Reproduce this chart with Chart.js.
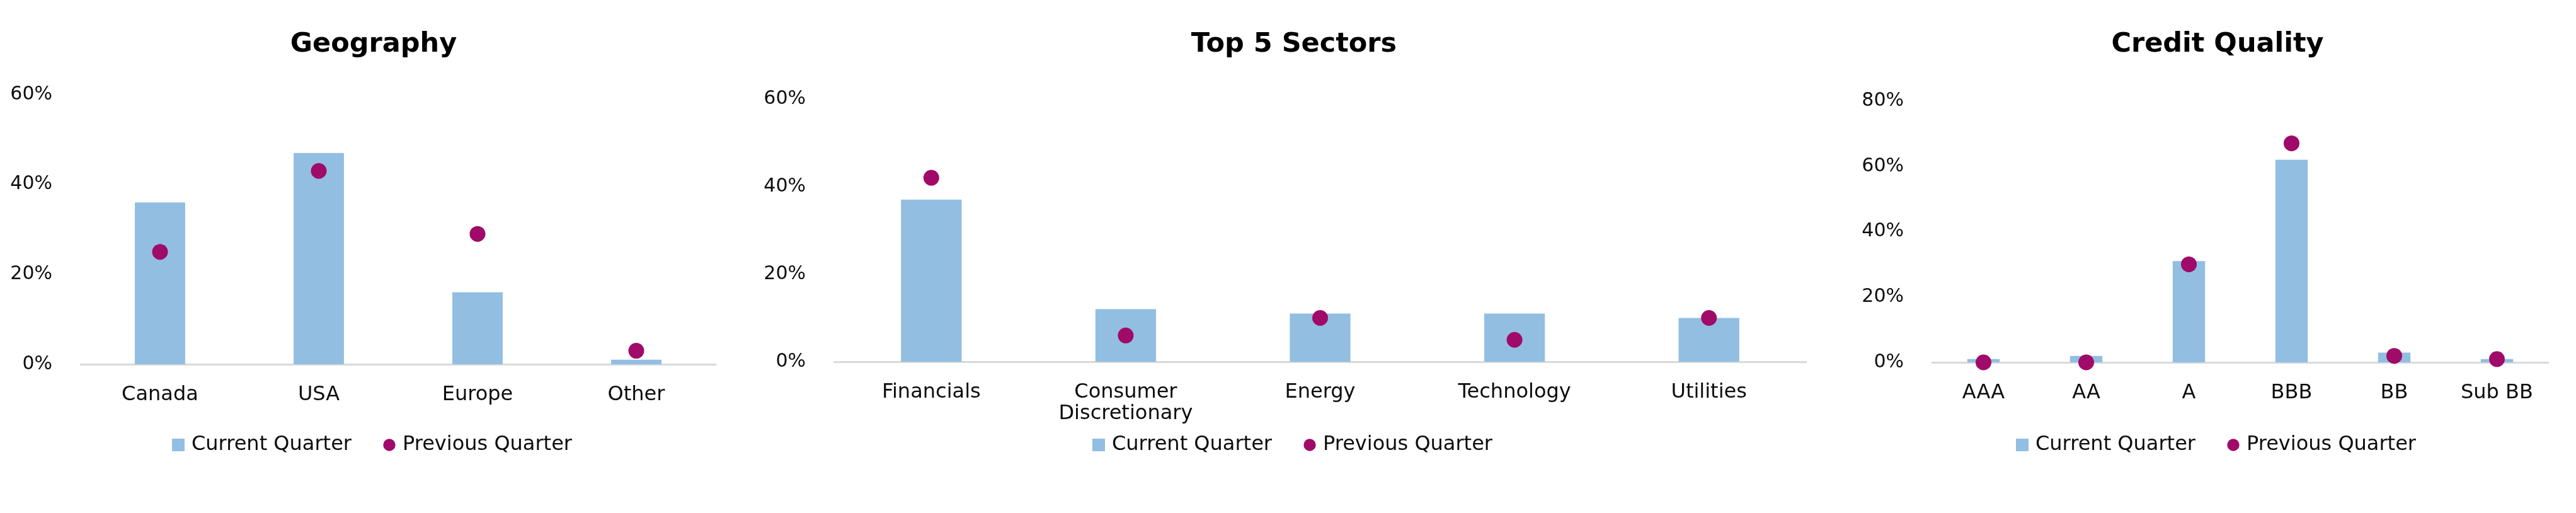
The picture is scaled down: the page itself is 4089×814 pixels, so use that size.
<!DOCTYPE html>
<html>
<head>
<meta charset="utf-8">
<script src="https://cdn.jsdelivr.net/npm/chart.js@4.4.1/dist/chart.umd.min.js"></script>
<style>
  html, body { margin: 0; padding: 0; background: #ffffff; }
  body { width: 4089px; height: 814px; position: relative; overflow: hidden; }
  canvas { position: absolute; top: 0; }
</style>
</head>
<body>
<canvas id="geo" width="1186" height="814" style="left:0px"></canvas>
<canvas id="sector" width="1748" height="814" style="left:1180px"></canvas>
<canvas id="credit" width="1138" height="814" style="left:2951px"></canvas>
<script>
// ---- data ----
const seriesNames = ['Current Quarter', 'Previous Quarter'];

const geoTitle = 'Geography';
const geoCategories = ['Canada', 'USA', 'Europe', 'Other'];
const geoCurrent = [36, 47, 16, 1];
const geoPrevious = [25, 43, 29, 3];
const geoTicks = [0, 20, 40, 60];

const sectorTitle = 'Top 5 Sectors';
const sectorCategories = ['Financials', ['Consumer', 'Discretionary'], 'Energy', 'Technology', 'Utilities'];
const sectorCurrent = [37, 12, 11, 11, 10];
const sectorPrevious = [42, 6, 10, 5, 10];
const sectorTicks = [0, 20, 40, 60];

const creditTitle = 'Credit Quality';
const creditCategories = ['AAA', 'AA', 'A', 'BBB', 'BB', 'Sub BB'];
const creditCurrent = [1, 2, 31, 62, 3, 1];
const creditPrevious = [0, 0, 30, 67, 2, 1];
const creditTicks = [0, 20, 40, 60, 80];

// ---- styles ----
const BAR_COLOR = '#92BEE2';
const DOT_COLOR = '#A00A68';
const AXIS_COLOR = '#D9D9D9';
const TEXT_COLOR = '#0d0d0d';
const FONT = "'DejaVu Sans', 'Liberation Sans', sans-serif";

Chart.defaults.font.family = FONT;
Chart.defaults.color = TEXT_COLOR;

function makeIcon(kind, color) {
  const c = document.createElement('canvas');
  c.width = 20; c.height = 20;
  const g = c.getContext('2d');
  g.fillStyle = color;
  if (kind === 'rect') { g.fillRect(0, 0, 20, 20); }
  else { g.beginPath(); g.arc(10, 10, 9.7, 0, Math.PI * 2); g.fill(); }
  return c;
}
const squareIcon = makeIcon('rect', BAR_COLOR);
const circleIcon = makeIcon('circle', DOT_COLOR);

const LEGEND_CENTER = 706;
const LEGEND_FONT = 32;
const LEGEND_PAD = 55;
const LEGEND_TOP = LEGEND_CENTER - (LEGEND_PAD + LEGEND_FONT / 2);
const LEGEND_HEIGHT = LEGEND_FONT + LEGEND_PAD + 10;
const X_AXIS_HEIGHT = 110;

// moves the legend box up so that it sits where the reference puts it,
// while the x axis keeps enough room for its (two-line) labels
const legendShift = {
  id: 'legendShift',
  afterLayout(chart) {
    const lg = chart.legend;
    if (!lg) return;
    const d = lg.top - LEGEND_TOP;
    lg.top -= d;
    lg.bottom -= d;
  }
};

function makeChart(id, categories, current, previous, ticks, title, L) {
  const tickMax = ticks[ticks.length - 1];
  const tickStep = ticks[1] - ticks[0];
  const bottomPad = 814 - (L.bottom + X_AXIS_HEIGHT + LEGEND_HEIGHT);
  new Chart(document.getElementById(id), {
    data: {
      labels: categories,
      datasets: [
        {
          type: 'bar',
          label: seriesNames[0],
          data: current,
          backgroundColor: BAR_COLOR,
          borderWidth: 0,
          barPercentage: L.barPct,
          categoryPercentage: 1,
          order: 2
        },
        {
          type: 'line',
          label: seriesNames[1],
          data: previous,
          showLine: false,
          pointRadius: 12.5,
          pointHoverRadius: 12.5,
          pointBackgroundColor: DOT_COLOR,
          pointBorderWidth: 0,
          borderColor: DOT_COLOR,
          backgroundColor: DOT_COLOR,
          clip: false,
          order: 1
        }
      ]
    },
    plugins: [legendShift],
    options: {
      responsive: false,
      animation: false,
      events: [],
      layout: { padding: { left: 0, right: 0, top: 0, bottom: bottomPad } },
      scales: {
        x: {
          grid: { display: false },
          border: { display: true, color: AXIS_COLOR, width: 3 },
          ticks: {
            padding: 24,
            maxRotation: 0,
            autoSkip: false,
            color: TEXT_COLOR,
            font: { size: 32, lineHeight: '34px' }
          },
          afterFit: s => { s.height = X_AXIS_HEIGHT; }
        },
        y: {
          min: 0,
          max: tickMax,
          grid: { display: false },
          border: { display: false },
          ticks: {
            stepSize: tickStep,
            padding: 37,
            color: TEXT_COLOR,
            font: { size: 30 },
            callback: v => v + '%'
          },
          afterFit: s => { s.width = L.yWidth; }
        },
        yRight: {
          position: 'right',
          display: true,
          grid: { display: false },
          border: { display: false },
          ticks: { display: false },
          afterFit: s => { s.width = L.rightWidth; }
        }
      },
      plugins: {
        tooltip: { enabled: false },
        title: {
          display: true,
          text: title,
          color: '#000000',
          font: { size: 43, weight: 'bold' },
          padding: { top: 45, bottom: L.top - 45 - 43 * 1.2 }
        },
        legend: {
          position: 'bottom',
          labels: {
            usePointStyle: true,
            boxWidth: 10,
            boxHeight: 20,
            padding: LEGEND_PAD,
            color: TEXT_COLOR,
            font: { size: LEGEND_FONT },
            sort: (a, b) => a.datasetIndex - b.datasetIndex,
            generateLabels: chart => {
              const items = Chart.defaults.plugins.legend.labels.generateLabels(chart);
              items.forEach(it => {
                it.pointStyle = it.datasetIndex === 0 ? squareIcon : circleIcon;
              });
              return items;
            }
          }
        }
      }
    }
  });
}

makeChart('geo', geoCategories, geoCurrent, geoPrevious, geoTicks, geoTitle,
  { yWidth: 128, rightWidth: 50, top: 150, bottom: 578, barPct: 0.317 });
makeChart('sector', sectorCategories, sectorCurrent, sectorPrevious, sectorTicks, sectorTitle,
  { yWidth: 144, rightWidth: 61, top: 157, bottom: 574, barPct: 0.312 });
makeChart('credit', creditCategories, creditCurrent, creditPrevious, creditTicks, creditTitle,
  { yWidth: 116, rightWidth: 44, top: 160, bottom: 575, barPct: 0.315 });
</script>
</body>
</html>
